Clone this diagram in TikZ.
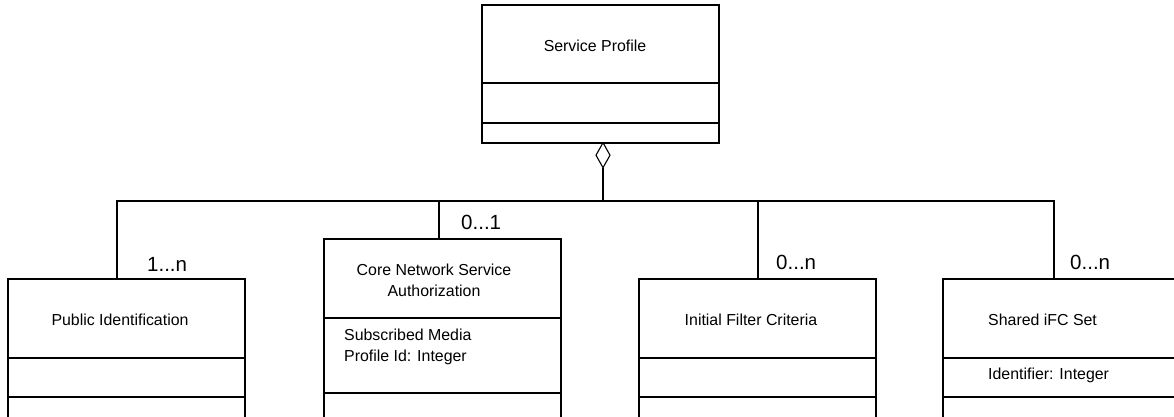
\documentclass[tikz,border=0pt]{standalone}
\usepackage{fontspec}
\setmainfont{Liberation Sans}
\usetikzlibrary{positioning,shapes.geometric}
\begin{document}
\begin{tikzpicture}[x=1pt, y=-1pt,
    box/.style={draw, line width=1.2pt, minimum width=237pt, inner sep=0pt, outer sep=0pt},
    agg/.style={draw, diamond, line width=1.1pt, minimum width=14pt, minimum height=25pt, inner sep=0pt, outer sep=0pt, fill=white},
    link/.style={line width=2pt},
    txt/.style={font=\fontsize{15.9pt}{20.7pt}\selectfont, inner sep=0pt},
    mult/.style={font=\fontsize{20.5pt}{24pt}\selectfont, inner sep=0pt, anchor=west}]
\useasboundingbox (0,0) rectangle (1174,416);
\clip (0,0) rectangle (1174,416);

\node[box, minimum height=78pt, anchor=north west] (svc) at (482,5) {};
\node[box, minimum height=40pt, below=0pt of svc] (svc-attr) {};
\node[box, minimum height=20pt, below=0pt of svc-attr] (svc-ops) {};
\node[txt] (svcname) at (595,46) {Service Profile};
\node[agg, anchor=north] (agg) at (603,142.7) {};

\foreach \n/\x/\y/\a in {pubid/8/279/39, core/324/239/75, ifc/639/279/39, shared/943/279/39} {
    \node[box, minimum height=79pt, anchor=north west] (\n) at (\x,\y) {};
    \node[box, minimum height=\a pt, below=0pt of \n] (\n-attr) {};
    \node[box, minimum height=40pt, below=0pt of \n-attr] (\n-ops) {};
}

\node[txt] (pubidname) at (120,320) {Public Identification};
\node[txt, align=center] (corename) at (434,280) {Core Network Service\\Authorization};
\node[txt, align=left, anchor=west] (coreattrs) at (344,347) {Subscribed Media\\Profile Id: Integer};
\node[txt] (ifcname) at (751,320) {Initial Filter Criteria};
\node[txt, anchor=west] (sharedname) at (988,320) {Shared iFC Set};
\node[txt, anchor=west] (sharedattrs) at (988,375) {Identifier: Integer};

\coordinate (tpub) at (117,201);
\coordinate (tcore) at (439,201);
\coordinate (tifc) at (758,201);
\coordinate (tshared) at (1054,201);

\draw[link] (agg.south) -- (agg.south |- tpub);
\draw[link] (tpub |- pubid.north) -- (tpub) -- (tshared) -- (tshared |- shared.north);
\draw[link] (tcore) -- (tcore |- core.north);
\draw[link] (tifc) -- (tifc |- ifc.north);

\node[mult] (mpub) at (147,264) {1...n};
\node[mult] (mcore) at (461,222) {0...1};
\node[mult] (mifc) at (776,262) {0...n};
\node[mult] (mshared) at (1070,262) {0...n};
\end{tikzpicture}
\end{document}
